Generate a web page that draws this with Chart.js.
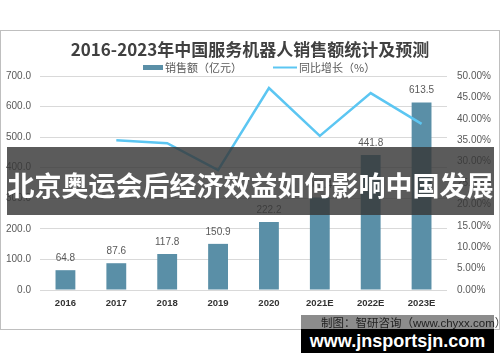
<!DOCTYPE html>
<html>
<head>
<meta charset="utf-8">
<script src="https://cdn.jsdelivr.net/npm/chart.js@4.4.1/dist/chart.umd.min.js"></script>
<style>
  html, body { margin: 0; padding: 0; background: #fff; }
  #wrap { position: relative; width: 500px; height: 362px; overflow: hidden; }
  #frame { position: absolute; left: 0; top: 30px; width: 498px; height: 298px; border: 1px solid #bfbfbf; }
  canvas { position: absolute; left: 0; top: 0; }
  #banner { position: absolute; left: 7px; top: 147px; width: 487px; height: 68px;
    background: rgba(55,55,55,0.82); color: #fff; font-family: "Noto Sans CJK SC", sans-serif;
    font-weight: bold; font-size: 27px; line-height: 68px; text-align: center; white-space: nowrap; letter-spacing: 0px; padding-top: 4px; box-sizing: border-box; }
  #src { position: absolute; left: 321px; top: 315px; font-family: "Noto Sans CJK SC", sans-serif; font-size: 11.5px; color: #404040; white-space: nowrap; line-height: 14px; }
  #src span { font-family: "Liberation Sans", Arial, sans-serif; font-size: 11.5px; }
  #srcbox { position: absolute; left: 301px; top: 315px; width: 193px; height: 14px; background: rgba(0,0,0,0.45); }
  #site { position: absolute; left: 301px; top: 329px; width: 193px; height: 24px; background: #000; color: #fff;
    font-family: "Liberation Sans", Arial, sans-serif; font-weight: bold; font-size: 18px; line-height: 24px; text-align: center; white-space: nowrap; }
</style>
</head>
<body>
<div id="wrap">
  <div id="frame"></div>
  <canvas id="c" width="500" height="362"></canvas>
  <div id="banner">北京奥运会后经济效益如何影响中国发展</div>
  <div id="src">制图：智研咨询（<span>www.chyxx.com</span>）</div>
  <div id="srcbox"></div>
  <div id="site">www.jnsportsjn.com</div>
</div>
<script>
const titleText = '2016-2023年中国服务机器人销售额统计及预测';
const categories = ['2016', '2017', '2018', '2019', '2020', '2021E', '2022E', '2023E'];
const salesValues = [64.8, 87.6, 117.8, 150.9, 222.2, 302.4, 441.8, 613.5];
const growthValues = [null, 35.0, 34.3, 28.0, 47.2, 36.0, 46.0, 38.8];
const salesLabel = '销售额（亿元）';
const growthLabel = '同比增长（%）';
const leftTicks = [0, 100, 200, 300, 400, 500, 600, 700];
const rightTicks = [0, 5, 10, 15, 20, 25, 30, 35, 40, 45, 50];

const barColor = '#5a8fa7';
const lineColor = '#5cc6f2';

const overlayPlugin = {
  id: 'overlay',
  afterDraw(chart) {
    const ctx = chart.ctx;
    ctx.save();
    ctx.fillStyle = '#404040';
    ctx.font = 'bold 17px "Noto Sans CJK SC", sans-serif';
    ctx.textAlign = 'center';
    ctx.textBaseline = 'middle';
    ctx.fillText(titleText, 250, 50);
    ctx.font = '11px "Noto Sans CJK SC", sans-serif';
    ctx.textAlign = 'left';
    ctx.fillStyle = chart.data.datasets[0].backgroundColor;
    ctx.fillRect(143, 65, 20, 5);
    ctx.fillStyle = '#595959';
    ctx.fillText(chart.data.datasets[0].label, 165, 67.5);
    ctx.strokeStyle = chart.data.datasets[1].borderColor;
    ctx.lineWidth = 2;
    ctx.beginPath(); ctx.moveTo(273, 67.5); ctx.lineTo(297, 67.5); ctx.stroke();
    ctx.fillStyle = '#595959';
    ctx.fillText(chart.data.datasets[1].label, 299, 67.5);
    ctx.restore();
  },
  afterDatasetsDraw(chart) {
    const ctx = chart.ctx;
    const meta = chart.getDatasetMeta(0);
    ctx.save();
    ctx.font = '10px "Liberation Sans", Arial, sans-serif';
    ctx.fillStyle = '#595959';
    ctx.textAlign = 'center';
    ctx.textBaseline = 'bottom';
    meta.data.forEach((el, i) => {
      ctx.fillText(salesValues[i].toFixed(1), el.x, el.y - 7);
    });
    ctx.restore();
  }
};

new Chart(document.getElementById('c'), {
  data: {
    labels: categories,
    datasets: [
      { type: 'bar', label: salesLabel, data: salesValues, backgroundColor: barColor, yAxisID: 'y', order: 1,
        categoryPercentage: 1, barPercentage: 0.39 },
      { type: 'line', label: growthLabel, data: growthValues, borderColor: lineColor, backgroundColor: lineColor,
        borderWidth: 2.5, pointRadius: 0, tension: 0, yAxisID: 'y1', order: 0, spanGaps: false }
    ]
  },
  options: {
    responsive: false,
    devicePixelRatio: 1,
    animation: false,
    layout: { padding: { left: 0, right: 6, top: 76, bottom: 0 } },
    plugins: { legend: { display: false }, title: { display: false }, tooltip: { enabled: false } },
    scales: {
      x: {
        grid: { display: false, drawTicks: false },
        border: { display: false },
        ticks: { color: '#333', font: { family: '"Liberation Sans", Arial, sans-serif', size: 9.5, weight: 'bold' }, padding: 8 },
        afterFit(s) { s.height = 72; }
      },
      y: {
        position: 'left', min: 0, max: 700,
        afterBuildTicks(s) { s.ticks = leftTicks.map(v => ({ value: v })); },
        grid: { color: '#d9d9d9', drawTicks: false },
        border: { display: false },
        ticks: { color: '#595959', font: { family: '"Liberation Sans", Arial, sans-serif', size: 10 }, padding: 9,
          callback: v => Number(v).toFixed(1) },
        afterFit(s) { s.width = 40; }
      },
      y1: {
        position: 'right', min: 0, max: 50,
        afterBuildTicks(s) { s.ticks = rightTicks.map(v => ({ value: v })); },
        grid: { display: false, drawTicks: false },
        border: { display: false },
        ticks: { color: '#595959', font: { family: '"Liberation Sans", Arial, sans-serif', size: 10 }, padding: 10,
          callback: v => Number(v).toFixed(2) + '%' },
        afterFit(s) { s.width = 47; }
      }
    }
  },
  plugins: [overlayPlugin]
});
</script>
</body>
</html>
